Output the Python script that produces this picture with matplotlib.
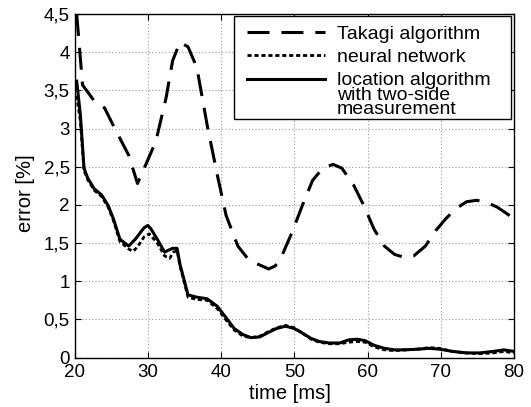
import matplotlib
matplotlib.use("Agg")
import matplotlib.pyplot as plt
from matplotlib.patches import Rectangle
from matplotlib.legend_handler import HandlerLine2D
from matplotlib.ticker import FuncFormatter

plt.rcParams['font.family'] = ['Liberation Sans', 'DejaVu Sans']

# Takagi algorithm
t_takagi = [20.3, 21.1, 22.7, 24.1, 25.5, 27.4, 28.6, 29.7, 31.1, 32.5, 33.4, 34.4,
            35.5, 36.7, 38.1, 39.5, 40.7, 42.3, 43.7, 45.1, 46.5, 47.4, 48.3, 49.7,
            51.1, 52.5, 53.9, 55.3, 56.5, 58.1, 59.5, 60.9, 62.3, 63.7, 65.1, 66.3,
            67.9, 69.3, 70.7, 72.1, 73.5, 74.9, 76.3, 77.7, 79.1, 80.0]
e_takagi = [4.5, 3.57, 3.36, 3.27, 3.0, 2.65, 2.28, 2.52, 2.83, 3.4, 3.89, 4.13,
            4.07, 3.8, 3.05, 2.39, 1.86, 1.46, 1.29, 1.22, 1.16, 1.2, 1.33, 1.64,
            1.99, 2.32, 2.48, 2.53, 2.48, 2.26, 1.99, 1.68, 1.46, 1.35, 1.31, 1.33,
            1.46, 1.66, 1.82, 1.95, 2.04, 2.06, 2.03, 1.97, 1.88, 1.81]

# location algorithm with two-side measurement
t_loc = [20.3, 20.8, 21.3, 21.8, 22.7, 23.7, 24.6, 25.3, 26.2, 27.4, 28.3, 29.5,
         30.0, 30.4, 31.3, 32.3, 32.7, 33.4, 34.0, 34.4, 35.5, 36.7, 38.1, 39.5,
         40.7, 41.8, 43.0, 44.1, 45.3, 46.5, 47.6, 48.8, 50.0, 51.1, 52.3, 53.4,
         54.8, 56.2, 57.4, 58.6, 59.7, 60.9, 62.3, 63.7, 65.1, 67.0, 68.4, 69.8,
         71.6, 73.5, 75.3, 77.2, 78.6, 80.0]
e_loc = [3.62, 3.18, 2.48, 2.35, 2.21, 2.13, 1.99, 1.82, 1.55, 1.46, 1.55, 1.70,
         1.73, 1.69, 1.55, 1.38, 1.40, 1.43, 1.43, 1.22, 0.82, 0.79, 0.77, 0.67,
         0.52, 0.38, 0.30, 0.26, 0.27, 0.33, 0.38, 0.41, 0.38, 0.32, 0.25, 0.21,
         0.19, 0.19, 0.23, 0.24, 0.22, 0.16, 0.12, 0.10, 0.10, 0.11, 0.12, 0.11,
         0.08, 0.06, 0.06, 0.08, 0.10, 0.08]

# neural network
t_nn = [20.3, 20.8, 21.3, 21.8, 22.7, 23.7, 24.6, 25.3, 26.2, 27.4, 28.0, 28.6,
        29.5, 30.2, 31.3, 32.3, 33.0, 33.5, 34.0, 34.4, 35.5, 36.7, 38.1, 39.5,
        40.7, 41.8, 43.0, 44.1, 45.3, 46.5, 47.6, 48.8, 50.0, 51.1, 52.3, 53.4,
        54.8, 56.2, 57.4, 58.6, 59.7, 60.9, 62.3, 63.7, 65.1, 67.0, 68.4, 69.8,
        71.6, 73.5, 75.3, 77.2, 78.6, 80.0]
e_nn = [3.43, 3.1, 2.45, 2.33, 2.19, 2.11, 1.97, 1.80, 1.52, 1.42, 1.39, 1.45,
        1.58, 1.62, 1.50, 1.33, 1.30, 1.38, 1.40, 1.20, 0.79, 0.76, 0.75, 0.64,
        0.49, 0.36, 0.28, 0.26, 0.28, 0.34, 0.39, 0.42, 0.39, 0.32, 0.24, 0.20,
        0.18, 0.18, 0.20, 0.21, 0.20, 0.14, 0.10, 0.09, 0.10, 0.11, 0.13, 0.12,
        0.08, 0.06, 0.05, 0.06, 0.08, 0.06]


# legend handle moved up to the first line of a multi-line label
class UpHandler(HandlerLine2D):
    def __init__(self, dy, **kw):
        super().__init__(**kw)
        self.dy = dy

    def create_artists(self, legend, orig_handle, xdescent, ydescent,
                       width, height, fontsize, trans):
        arts = super().create_artists(legend, orig_handle, xdescent, ydescent,
                                      width, height, fontsize, trans)
        for a in arts:
            a.set_ydata([y + self.dy for y in a.get_ydata()])
        return arts


W, H = 531, 407
fig = plt.figure(figsize=(W / 100, H / 100), dpi=100)
# axes box in pixels: left 74.5, right 514, top 14, bottom 357.5
ax = fig.add_axes([74.5 / W, 1 - 357.5 / H, 439.5 / W, 343.5 / H])

ax.plot(t_takagi, e_takagi, color="black", lw=2.2, dashes=(7.2, 3.9),
        label="Takagi algorithm")
ax.plot(t_nn, e_nn, color="black", lw=2.0, dashes=(1.5, 1.0),
        label="neural network")
ln_loc, = ax.plot(t_loc, e_loc, color="black", lw=2.2,
                  label="location algorithm\nwith two-side\nmeasurement")

ax.set_xlim(20, 80)
ax.set_ylim(0, 4.5)
ax.set_xticks(range(20, 81, 10))
ax.set_yticks([i * 0.5 for i in range(10)])
ax.yaxis.set_major_formatter(FuncFormatter(lambda v, p: ("%g" % v).replace(".", ",")))
ax.tick_params(direction="in", top=True, right=True, labelsize=13.5, length=4)
ax.tick_params(axis="x", pad=5)
ax.grid(True, color="#999999", linestyle=(0, (1, 2)), linewidth=0.8)
for s in ax.spines.values():
    s.set_linewidth(1.0)

ax.set_xlabel("time [ms]", fontsize=14.5)
ax.set_ylabel("error [%]", fontsize=14.5)
ax.xaxis.set_label_coords(0.49, -0.077)
ax.yaxis.set_label_coords(-0.09, 0.479)

# legend frame (pixels: x 234-511, y 16-119)
frame = Rectangle((234 / W, 1 - 119 / H), 277 / W, 103 / H,
                  transform=fig.transFigure, facecolor="white",
                  edgecolor="black", lw=1.0, zorder=4.9, clip_on=False)
ax.add_patch(frame)

leg = ax.legend(loc="upper left", bbox_to_anchor=(247 / W, 1 - 25.5 / H),
                bbox_transform=fig.transFigure, fontsize=14,
                handlelength=4.0, handletextpad=0.62, borderpad=0,
                borderaxespad=0, frameon=False, labelspacing=0.28,
                handler_map={ln_loc: UpHandler(dy=11.0)})
leg.set_zorder(5)
for t in leg.get_texts():
    t.set_linespacing(0.84)

fig.savefig("out.png", dpi=100)
